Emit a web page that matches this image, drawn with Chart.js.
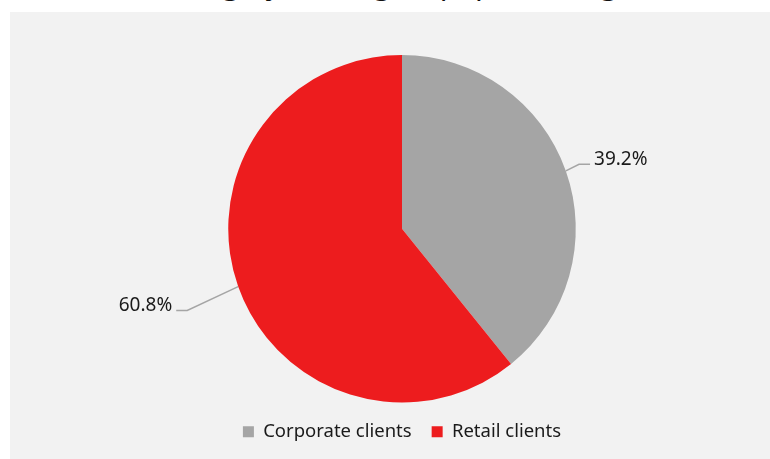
<!DOCTYPE html>
<html>
<head>
<meta charset="utf-8">
<script src="https://cdn.jsdelivr.net/npm/chart.js@4/dist/chart.umd.min.js"></script>
<style>
  html, body { margin: 0; padding: 0; background: #fff; overflow: hidden; }
  body { width: 770px; height: 459px; position: relative; font-family: 'Noto Sans', sans-serif; }
  #title { position: absolute; left: 0; width: 770px; top: -38px; text-align: center; font-size: 30px; color: #111; white-space: nowrap; }
  #panel { position: absolute; left: 10px; top: 12px; width: 760px; height: 447px; background: #f2f2f2; }
</style>
</head>
<body>
<div id="title">Lending by client group (percentage)</div>
<div id="panel"><canvas id="chart" width="760" height="447"></canvas></div>
<script>
'use strict';

// ************************** DATA ****************************************** //
let segments = ['Corporate clients', 'Retail clients'];
let shares = [39.2, 60.8];
let shareLabels = ['39.2%', '60.8%'];
let segmentColors = ['#a5a5a5', '#ed1c1e'];

// ************************** LEADER LINE LABELS **************************** //
let outLabels = {
  id: 'outLabels',
  afterDatasetsDraw(chart, args, opts) {
    let ctx = chart.ctx;
    let meta = chart.getDatasetMeta(0);
    meta.data.forEach((arc, i) => {
      let mid = (arc.startAngle + arc.endAngle) / 2;
      let r = arc.outerRadius;
      let cos = Math.cos(mid);
      let sin = Math.sin(mid);
      let x0 = arc.x + cos * r;
      let y0 = arc.y + sin * r;
      let x1 = arc.x + cos * (r + opts.lineLength[i]);
      let y1 = arc.y + sin * (r + opts.lineLength[i]) + opts.drop[i];
      let dir = cos >= 0 ? 1 : -1;
      let x2 = x1 + dir * opts.tail;

      ctx.save();
      ctx.strokeStyle = '#a5a5a5';
      ctx.lineWidth = 1.5;
      ctx.beginPath();
      ctx.moveTo(x0, y0);
      ctx.lineTo(x1, y1);
      ctx.lineTo(x2, y1);
      ctx.stroke();

      ctx.fillStyle = '#1a1a1a';
      ctx.font = '19px "Noto Sans"';
      ctx.textAlign = dir > 0 ? 'left' : 'right';
      ctx.textBaseline = 'alphabetic';
      ctx.fillText(shareLabels[i], x2 + dir * 4, y1 + opts.lift[i]);
      ctx.restore();
    });
  }
};

// ************************** CHART ***************************************** //
let chart = document.getElementById('chart');

new Chart(chart, {
  type: 'pie',
  data: {
    labels: segments,
    datasets: [{
      data: shares,
      backgroundColor: segmentColors,
      borderWidth: 0
    }]
  },
  options: {
    responsive: false,
    animation: false,
    layout: {
      padding: { top: 43, bottom: 8, left: 24, right: 0 }
    },
    plugins: {
      tooltip: { enabled: false },
      legend: {
        position: 'bottom',
        labels: {
          color: '#1a1a1a',
          font: { family: 'Noto Sans', size: 18.5 },
          boxWidth: 11,
          boxHeight: 11,
          padding: 20
        }
      },
      outLabels: {
        lineLength: [14, 54],
        drop: [-2, 6],
        lift: [1, 0],
        tail: 11
      }
    }
  },
  plugins: [outLabels]
});
</script>
</body>
</html>
